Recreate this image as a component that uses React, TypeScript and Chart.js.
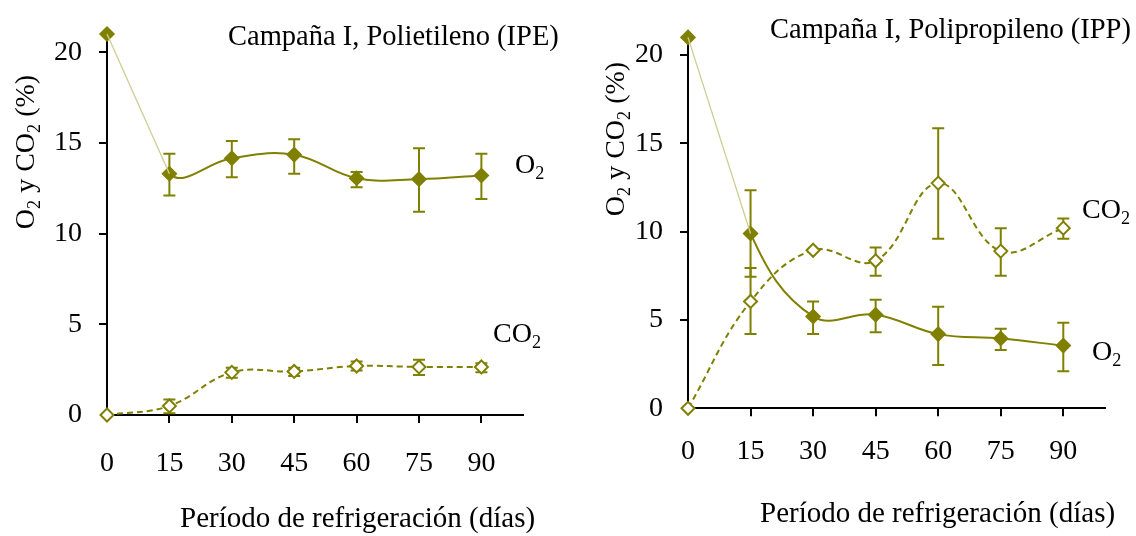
import React, { useEffect, useRef } from "react";
import { Chart, registerables } from "chart.js";

Chart.register(...registerables);

// ---------- data ----------
const days = [0, 15, 30, 45, 60, 75, 90];
const xTicks = [0, 15, 30, 45, 60, 75, 90];
const yTicks = [0, 5, 10, 15, 20];

// Campaña I, Polietileno (IPE)
const ipeO2 = [21, 13.3, 14.15, 14.35, 13.05, 13.0, 13.2];
const ipeO2Low = [null, 12.1, 13.1, 13.3, 12.55, 11.2, 11.9];
const ipeO2High = [null, 14.4, 15.1, 15.2, 13.4, 14.7, 14.4];
const ipeCO2 = [0, 0.5, 2.35, 2.4, 2.7, 2.65, 2.65];
const ipeCO2Low = [null, 0.1, 2.05, 2.15, 2.45, 2.2, 2.35];
const ipeCO2High = [null, 0.85, 2.6, 2.6, 2.95, 3.05, 2.85];

// Campaña I, Polipropileno (IPP)
const ippO2 = [21, 9.9, 5.2, 5.3, 4.2, 3.95, 3.55];
const ippO2Low = [null, 7.45, 4.2, 4.3, 2.45, 3.3, 2.1];
const ippO2High = [null, 12.35, 6.05, 6.15, 5.75, 4.5, 4.85];
const ippCO2 = [0, 6.05, 8.95, 8.35, 12.75, 8.9, 10.2];
const ippCO2Low = [null, 4.2, null, 7.5, 9.6, 7.5, 9.6];
const ippCO2High = [null, 7.95, null, 9.1, 15.85, 10.2, 10.75];

const titleIPE = "Campaña I, Polietileno (IPE)";
const titleIPP = "Campaña I, Polipropileno (IPP)";
const xTitle = "Período de refrigeración (días)";
const yTitleParts: [string, boolean][] = [["O", false], ["2", true], [" y CO", false], ["2", true], [" (%)", false]];
const o2Parts: [string, boolean][] = [["O", false], ["2", true]];
const co2Parts: [string, boolean][] = [["CO", false], ["2", true]];

// ---------- styles ----------
const OLIVE = "#808000";
const LIGHT = "#cdcd94";
const FONT = "'Liberation Serif', 'Times New Roman', serif";
const W = 568;
const H = 536;

function drawRich(ctx: CanvasRenderingContext2D, parts: [string, boolean][], x: number, y: number, size: number, align: "left" | "center") {
  const sub = size * 0.65;
  let total = 0;
  const widths = parts.map(([t, s]) => {
    ctx.font = `${s ? sub : size}px ${FONT}`;
    const w = ctx.measureText(t).width;
    total += w;
    return w;
  });
  let cx = align === "center" ? x - total / 2 : x;
  ctx.textBaseline = "alphabetic";
  ctx.textAlign = "left";
  parts.forEach(([t, s], i) => {
    ctx.font = `${s ? sub : size}px ${FONT}`;
    ctx.fillText(t, cx, s ? y + size * 0.2 : y);
    cx += widths[i];
  });
}

const errorBarsPlugin = {
  id: "errorBars",
  beforeDatasetsDraw(chart: any) {
    const ctx = chart.ctx;
    const xs = chart.scales.x;
    const ys = chart.scales.y;
    ctx.save();
    chart.data.datasets.forEach((ds: any) => {
      const lo = ds.errLow || [];
      const hi = ds.errHigh || [];
      ds.data.forEach((p: any, i: number) => {
        if (lo[i] == null || hi[i] == null) return;
        const x = xs.getPixelForValue(p.x);
        const y1 = ys.getPixelForValue(lo[i]);
        const y2 = ys.getPixelForValue(hi[i]);
        ctx.strokeStyle = OLIVE;
        ctx.lineWidth = 2;
        ctx.beginPath();
        ctx.moveTo(x, y1);
        ctx.lineTo(x, y2);
        ctx.moveTo(x - 6, y1);
        ctx.lineTo(x + 6, y1);
        ctx.moveTo(x - 6, y2);
        ctx.lineTo(x + 6, y2);
        ctx.stroke();
      });
    });
    ctx.restore();
  },
};

const panelTextPlugin = {
  id: "panelText",
  afterDraw(chart: any, _args: any, opts: any) {
    const ctx = chart.ctx;
    ctx.save();
    ctx.fillStyle = "#000";
    ctx.font = `28.5px ${FONT}`;
    ctx.textAlign = "left";
    ctx.textBaseline = "alphabetic";
    ctx.fillText(opts.title, opts.titleX, opts.titleY);
    ctx.font = `29px ${FONT}`;
    ctx.fillText(opts.xTitle, opts.xTitleX, opts.xTitleY);
    ctx.save();
    ctx.translate(opts.yTitleX, opts.yTitleY);
    ctx.rotate(-Math.PI / 2);
    drawRich(ctx, yTitleParts, 0, 10, 28, "center");
    ctx.restore();
    drawRich(ctx, o2Parts, opts.o2X, opts.o2Y, 28, "left");
    drawRich(ctx, co2Parts, opts.co2X, opts.co2Y, 28, "left");
    ctx.restore();
  },
};

type PanelCfg = {
  o2: number[];
  o2Low: (number | null)[];
  o2High: (number | null)[];
  co2: number[];
  co2Low: (number | null)[];
  co2High: (number | null)[];
  axisLeft: number;
  top: number;
  rightPad: number;
  bottomAxis: number;
  tickPad: number;
  text: any;
};

const ipeCfg: PanelCfg = {
  o2: ipeO2, o2Low: ipeO2Low, o2High: ipeO2High,
  co2: ipeCO2, co2Low: ipeCO2Low, co2High: ipeCO2High,
  axisLeft: 107, top: 34, rightPad: 45, bottomAxis: 415, tickPad: 24,
  text: {
    title: titleIPE, titleX: 228, titleY: 45,
    xTitle, xTitleX: 180, xTitleY: 527,
    yTitleX: 24, yTitleY: 152,
    o2X: 515, o2Y: 173, co2X: 493, co2Y: 342,
  },
};

const ippCfg: PanelCfg = {
  o2: ippO2, o2Low: ippO2Low, o2High: ippO2High,
  co2: ippCO2, co2Low: ippCO2Low, co2High: ippCO2High,
  axisLeft: 120, top: 37.4, rightPad: 31, bottomAxis: 408.3, tickPad: 19,
  text: {
    title: titleIPP, titleX: 202, titleY: 38,
    xTitle, xTitleX: 192, xTitleY: 522,
    yTitleX: 46, yTitleY: 139,
    o2X: 524, o2Y: 360, co2X: 514, co2Y: 218,
  },
};

function Panel({ cfg, left }: { cfg: PanelCfg; left: number }) {
  const ref = useRef<HTMLCanvasElement>(null);
  useEffect(() => {
    if (!ref.current) return;
    const tickColor = (c: any) => (c.tick && c.tick.value === 0 ? "rgba(0,0,0,0)" : "#000");
    const chart = new Chart(ref.current, {
      type: "line",
      data: {
        datasets: [
          {
            label: "O2 inicial",
            data: [0, 1].map((i) => ({ x: days[i], y: cfg.o2[i] })),
            borderColor: LIGHT,
            borderWidth: 1.3,
            pointRadius: 0,
            tension: 0,
            clip: false,
          } as any,
          {
            label: "O2",
            data: days.map((d, i) => ({ x: d, y: cfg.o2[i] })),
            borderColor: OLIVE,
            borderWidth: 2,
            backgroundColor: OLIVE,
            pointStyle: "rectRot",
            pointRadius: 7,
            pointBorderWidth: 1.5,
            pointBackgroundColor: OLIVE,
            pointBorderColor: OLIVE,
            tension: 0.4,
            clip: false,
            segment: {
              borderColor: (c: any) => (c.p0DataIndex === 0 ? "rgba(0,0,0,0)" : undefined),
            },
            errLow: cfg.o2Low,
            errHigh: cfg.o2High,
          } as any,
          {
            label: "CO2",
            data: days.map((d, i) => ({ x: d, y: cfg.co2[i] })),
            borderColor: OLIVE,
            borderWidth: 2,
            borderDash: [6, 4],
            backgroundColor: "#fff",
            pointStyle: "rectRot",
            pointRadius: 6.5,
            pointBorderWidth: 2,
            pointBackgroundColor: "#fff",
            pointBorderColor: OLIVE,
            tension: 0.4,
            clip: false,
            errLow: cfg.co2Low,
            errHigh: cfg.co2High,
          } as any,
        ],
      },
      options: {
        animation: false,
        responsive: false,
        maintainAspectRatio: false,
        layout: { padding: { left: 0, top: cfg.top, right: cfg.rightPad, bottom: 0 } },
        plugins: {
          legend: { display: false },
          tooltip: { enabled: false },
          title: { display: false },
          panelText: cfg.text,
        } as any,
        scales: {
          x: {
            type: "linear",
            min: 0,
            max: 100,
            afterBuildTicks: (s: any) => {
              s.ticks = xTicks.map((v) => ({ value: v }));
            },
            afterFit: (s: any) => {
              s.height = H - cfg.bottomAxis;
            },
            grid: { display: true, drawOnChartArea: false, drawTicks: true, tickLength: 8, color: tickColor, lineWidth: 2 },
            border: { display: true, color: "#000", width: 2 },
            ticks: { color: "#000", font: { family: FONT, size: 28 }, padding: cfg.tickPad, maxRotation: 0, autoSkip: false },
          },
          y: {
            type: "linear",
            min: 0,
            max: 21,
            afterBuildTicks: (s: any) => {
              s.ticks = yTicks.map((v) => ({ value: v }));
            },
            afterFit: (s: any) => {
              s.width = cfg.axisLeft;
            },
            grid: { display: true, drawOnChartArea: false, drawTicks: true, tickLength: 8, color: tickColor, lineWidth: 2 },
            border: { display: true, color: "#000", width: 2 },
            ticks: { color: "#000", font: { family: FONT, size: 28 }, padding: 17, autoSkip: false },
          },
        },
      },
      plugins: [errorBarsPlugin, panelTextPlugin],
    } as any);
    return () => chart.destroy();
  }, [cfg]);
  return (
    <canvas
      ref={ref}
      width={W}
      height={H}
      style={{ position: "absolute", left, top: 0, width: W, height: H }}
    />
  );
}

export default function App() {
  return (
    <div style={{ position: "fixed", left: 0, top: 0, width: 1136, height: 536, background: "#fff" }}>
      <Panel cfg={ipeCfg} left={0} />
      <Panel cfg={ippCfg} left={W} />
    </div>
  );
}
